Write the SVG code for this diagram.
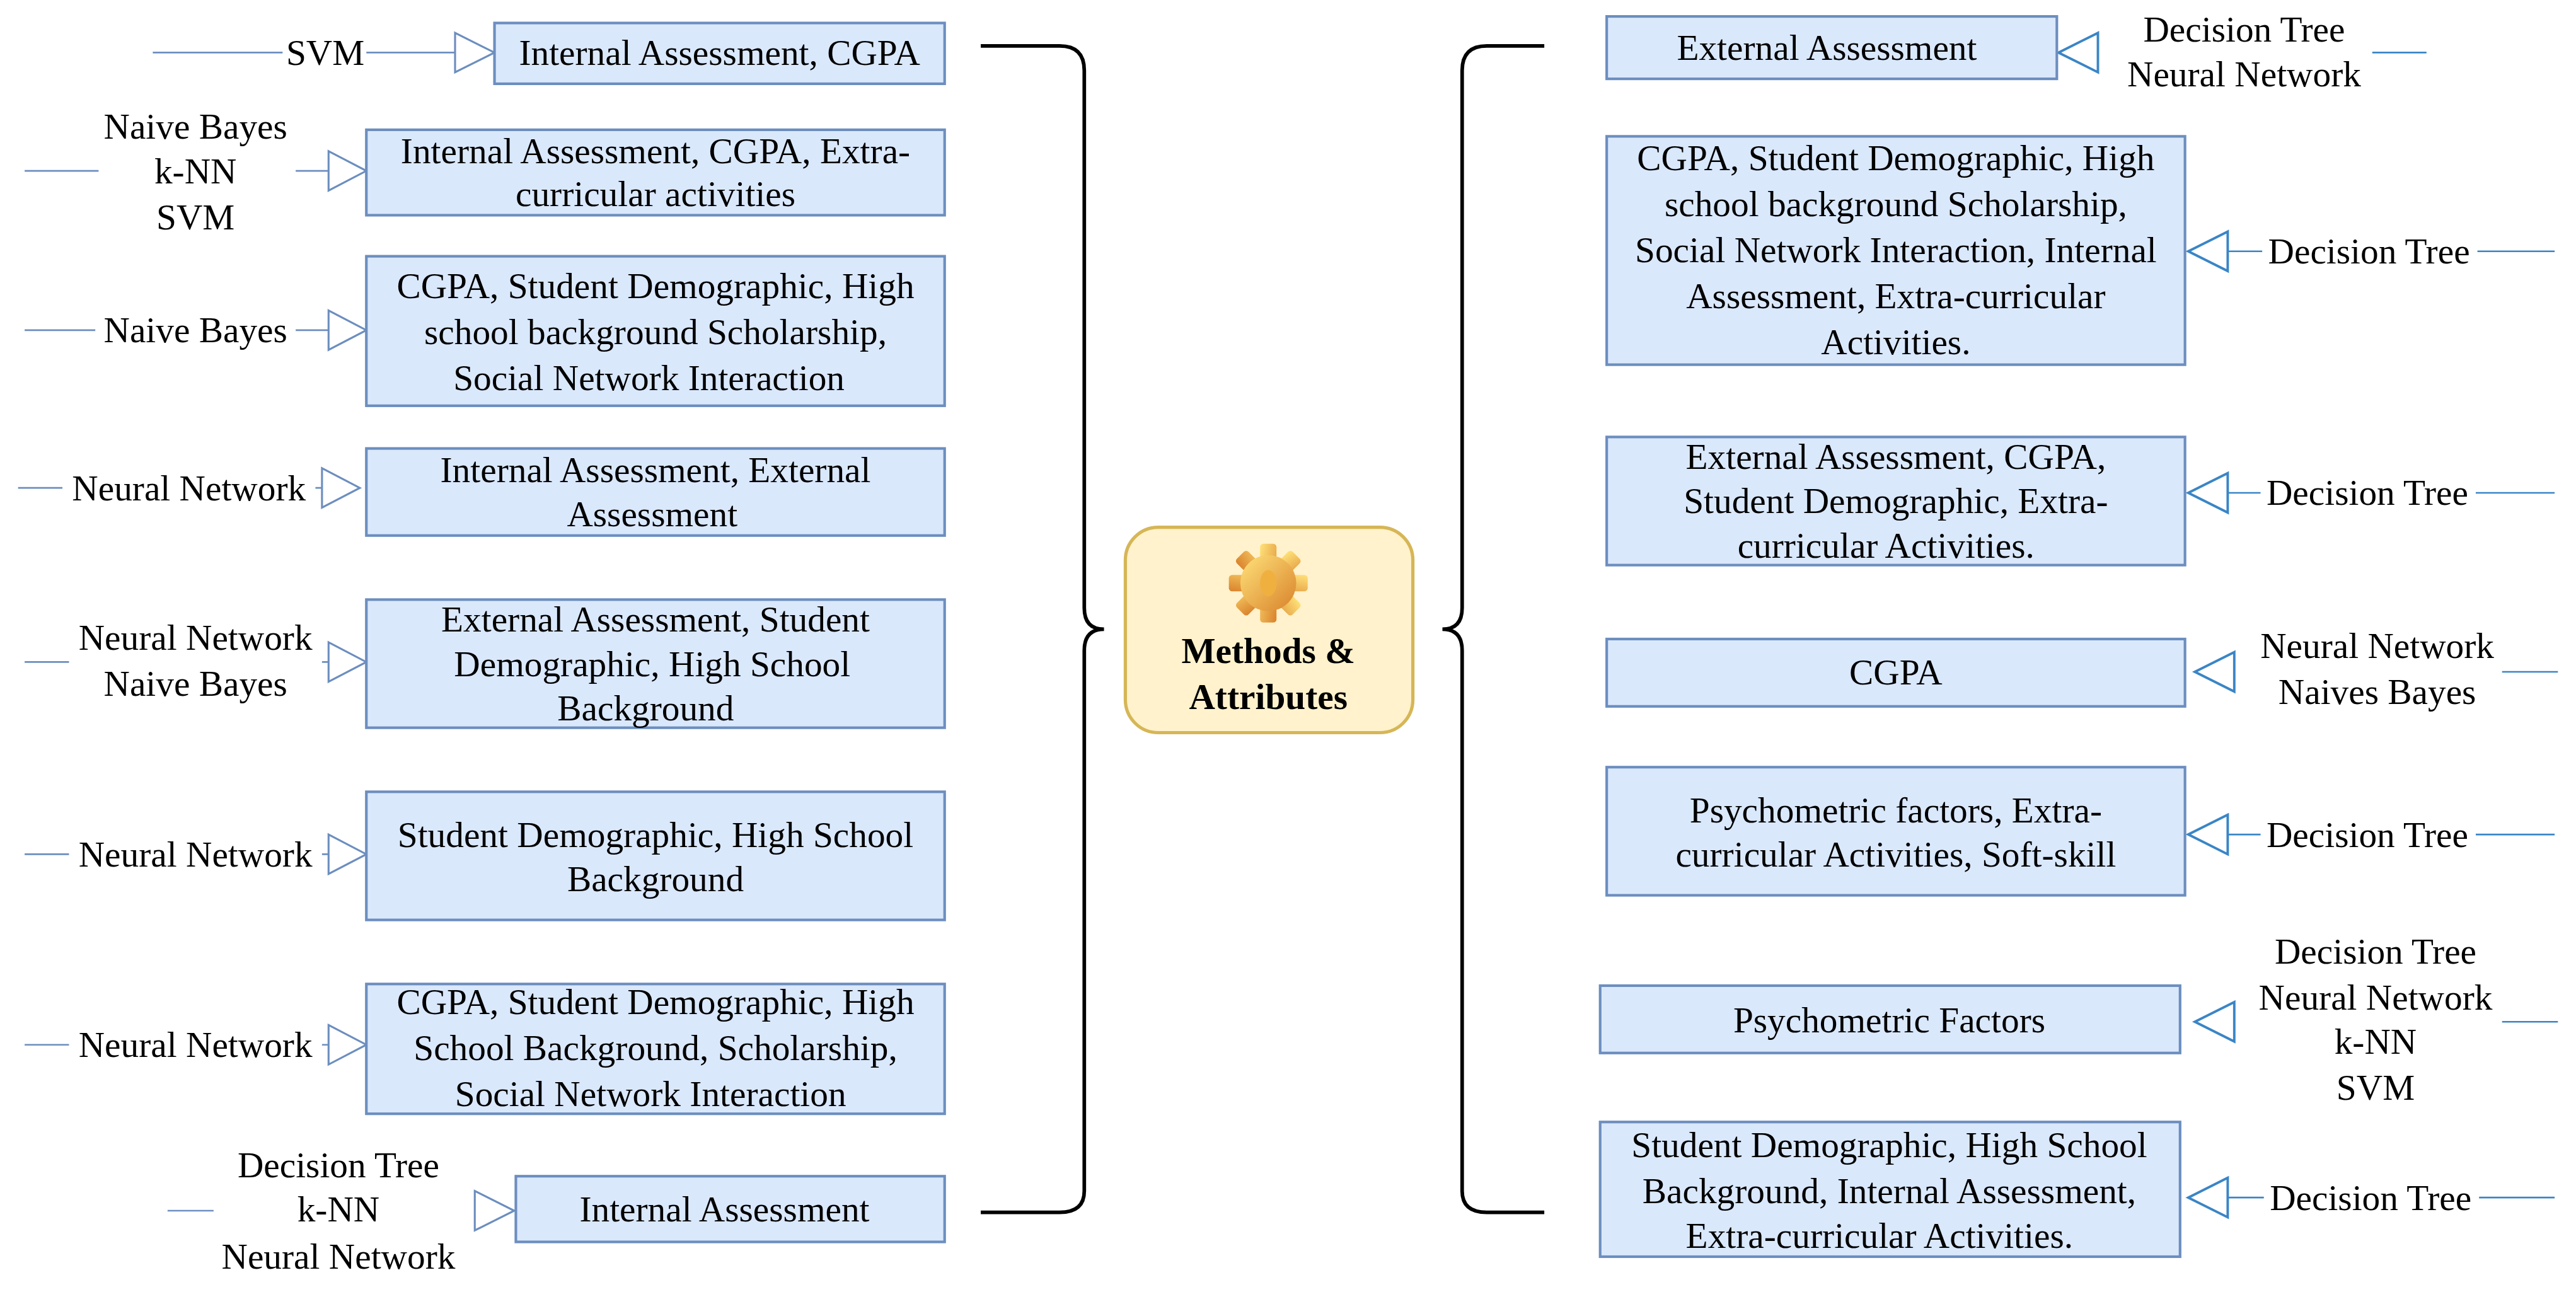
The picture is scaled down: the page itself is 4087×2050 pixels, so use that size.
<svg xmlns="http://www.w3.org/2000/svg" width="4087" height="2050" viewBox="0 0 4087 2050">
<style>
.b{fill:#dae8fc;stroke:#6c8ebf;stroke-width:1.6}
.t{font-family:"Liberation Serif",serif;font-size:22px;fill:#000;text-anchor:middle;dominant-baseline:central}
.l{stroke:#6c8ebf;stroke-width:1;fill:none}
.r{stroke:#3a85c6;stroke-width:1;fill:none}
.ah{fill:#fff;stroke:#6c8ebf;stroke-width:1.2}
.ar{fill:#fff;stroke:#3a85c6;stroke-width:1.5}
.br{stroke:#000;stroke-width:2.2;fill:none}
</style>
<defs>
<linearGradient id="g" x1="0" y1="0" x2="1" y2="1"><stop offset="0" stop-color="#ffe27a"/><stop offset="1" stop-color="#d9822b"/></linearGradient>
</defs>
<rect width="4087" height="2050" fill="#fff"/>
<g transform="scale(2.6065)">
<g id="connectors">
<path class="br" d="M597,28 L645,28 Q660,28 660,43 L660,370 Q660,383 672,383 Q660,383 660,396 L660,725 Q660,738 645,738 L597,738"/>
<path class="br" d="M940,28 L905,28 Q890,28 890,43 L890,370 Q890,383 878,383 Q890,383 890,396 L890,725 Q890,738 905,738 L940,738"/>
<path class="l" d="M93,32H172M223,32H277"/><path class="ah" d="M277,20L301,32L277,44Z"/>
<path class="l" d="M15,104H60M180,104H200"/><path class="ah" d="M200,92L223,104L200,116Z"/>
<path class="l" d="M15,201H58M180,201H200"/><path class="ah" d="M200,189L223,201L200,213Z"/>
<path class="l" d="M11,297H38M192,297H196"/><path class="ah" d="M196,285L219,297L196,309Z"/>
<path class="l" d="M15,403H42M196,403H200"/><path class="ah" d="M200,391L223,403L200,415Z"/>
<path class="l" d="M15,520H42M196,520H200"/><path class="ah" d="M200,508L223,520L200,532Z"/>
<path class="l" d="M15,636H42M196,636H200"/><path class="ah" d="M200,624L223,636L200,648Z"/>
<path class="l" d="M102,737H130"/><path class="ah" d="M289,725L313,737L289,749Z"/>
<path class="r" d="M1444,32H1477"/><path class="ar" d="M1277,20L1253,32L1277,44Z"/>
<path class="r" d="M1356,153H1377M1508,153H1555"/><path class="ar" d="M1356,141L1332,153L1356,165Z"/>
<path class="r" d="M1356,300H1376M1507,300H1555"/><path class="ar" d="M1356,288L1332,300L1356,312Z"/>
<path class="r" d="M1523,409H1557"/><path class="ar" d="M1360,397L1336,409L1360,421Z"/>
<path class="r" d="M1356,508H1376M1507,508H1555"/><path class="ar" d="M1356,496L1332,508L1356,520Z"/>
<path class="r" d="M1523,622H1557"/><path class="ar" d="M1360,610L1336,622L1360,634Z"/>
<path class="r" d="M1356,729H1378M1509,729H1555"/><path class="ar" d="M1356,717L1332,729L1356,741Z"/>
</g>
<g id="labels">
<text class="t" x="198" y="32">SVM</text>
<text class="t" x="119" y="77">Naive Bayes</text><text class="t" x="119" y="104">k-NN</text><text class="t" x="119" y="132">SVM</text>
<text class="t" x="119" y="201">Naive Bayes</text>
<text class="t" x="115" y="297">Neural Network</text>
<text class="t" x="119" y="388">Neural Network</text><text class="t" x="119" y="416">Naive Bayes</text>
<text class="t" x="119" y="520">Neural Network</text>
<text class="t" x="119" y="636">Neural Network</text>
<text class="t" x="206" y="709">Decision Tree</text><text class="t" x="206" y="736">k-NN</text><text class="t" x="206" y="765">Neural Network</text>
<text class="t" x="1366" y="18">Decision Tree</text><text class="t" x="1366" y="45">Neural Network</text>
<text class="t" x="1442" y="153">Decision Tree</text>
<text class="t" x="1441" y="300">Decision Tree</text>
<text class="t" x="1447" y="393">Neural Network</text><text class="t" x="1447" y="421">Naives Bayes</text>
<text class="t" x="1441" y="508">Decision Tree</text>
<text class="t" x="1446" y="579">Decision Tree</text><text class="t" x="1446" y="607">Neural Network</text><text class="t" x="1446" y="634">k-NN</text><text class="t" x="1446" y="662">SVM</text>
<text class="t" x="1443" y="729">Decision Tree</text>
</g>
<g id="center">
<rect x="685" y="321" width="175" height="125" rx="20" fill="#fff2cc" stroke="#d6b656" stroke-width="2"/>
<g transform="translate(772,355)" fill="url(#g)">
<g><rect x="-5" y="-24" width="10" height="48" rx="2"/><rect x="-5" y="-24" width="10" height="48" rx="2" transform="rotate(45)"/><rect x="-5" y="-24" width="10" height="48" rx="2" transform="rotate(90)"/><rect x="-5" y="-24" width="10" height="48" rx="2" transform="rotate(135)"/></g>
<circle r="17"/><ellipse rx="5" ry="8" fill="#f0b040"/>
</g>
<text class="t" x="772" y="396" font-weight="bold">Methods &amp;</text>
<text class="t" x="772" y="424" font-weight="bold">Attributes</text>
</g>
<g id="left-nodes">
<g id="L1"><rect class="b" x="301" y="14" width="274" height="37"/><text class="t" x="438" y="32">Internal Assessment, CGPA</text></g>
<g id="L2"><rect class="b" x="223" y="79" width="352" height="52"/><text class="t" x="399" y="92">Internal Assessment, CGPA, Extra-</text><text class="t" x="399" y="118">curricular activities</text></g>
<g id="L3"><rect class="b" x="223" y="156" width="352" height="91"/><text class="t" x="399" y="174">CGPA, Student Demographic, High</text><text class="t" x="399" y="202">school background Scholarship,</text><text class="t" x="395" y="230">Social Network Interaction</text></g>
<g id="L4"><rect class="b" x="223" y="273" width="352" height="53"/><text class="t" x="399" y="286">Internal Assessment, External</text><text class="t" x="397" y="313">Assessment</text></g>
<g id="L5"><rect class="b" x="223" y="365" width="352" height="78"/><text class="t" x="399" y="377">External Assessment, Student</text><text class="t" x="397" y="404">Demographic, High School</text><text class="t" x="393" y="431">Background</text></g>
<g id="L6"><rect class="b" x="223" y="482" width="352" height="78"/><text class="t" x="399" y="508">Student Demographic, High School</text><text class="t" x="399" y="535">Background</text></g>
<g id="L7"><rect class="b" x="223" y="599" width="352" height="79"/><text class="t" x="399" y="610">CGPA, Student Demographic, High</text><text class="t" x="399" y="638">School  Background, Scholarship,</text><text class="t" x="396" y="666">Social Network Interaction</text></g>
<g id="L8"><rect class="b" x="314" y="716" width="261" height="40"/><text class="t" x="441" y="736">Internal Assessment</text></g>
</g>
<g id="right-nodes">
<g id="R1"><rect class="b" x="978" y="10" width="274" height="38"/><text class="t" x="1112" y="29">External Assessment</text></g>
<g id="R2"><rect class="b" x="978" y="83" width="352" height="139"/><text class="t" x="1154" y="96">CGPA, Student Demographic, High</text><text class="t" x="1154" y="124">school background Scholarship,</text><text class="t" x="1154" y="152">Social Network Interaction, Internal</text><text class="t" x="1154" y="180">Assessment, Extra-curricular</text><text class="t" x="1154" y="208">Activities.</text></g>
<g id="R3"><rect class="b" x="978" y="266" width="352" height="78"/><text class="t" x="1154" y="278">External Assessment,  CGPA,</text><text class="t" x="1154" y="305">Student Demographic, Extra-</text><text class="t" x="1148" y="332">curricular Activities.</text></g>
<g id="R4"><rect class="b" x="978" y="389" width="352" height="41"/><text class="t" x="1154" y="409">CGPA</text></g>
<g id="R5"><rect class="b" x="978" y="467" width="352" height="78"/><text class="t" x="1154" y="493">Psychometric factors, Extra-</text><text class="t" x="1154" y="520">curricular Activities, Soft-skill</text></g>
<g id="R6"><rect class="b" x="974" y="600" width="353" height="41"/><text class="t" x="1150" y="621">Psychometric Factors</text></g>
<g id="R7"><rect class="b" x="974" y="683" width="353" height="82"/><text class="t" x="1150" y="697">Student Demographic, High School</text><text class="t" x="1150" y="725">Background, Internal Assessment,</text><text class="t" x="1144" y="752">Extra-curricular Activities.</text></g>
</g>
</g>
</svg>
